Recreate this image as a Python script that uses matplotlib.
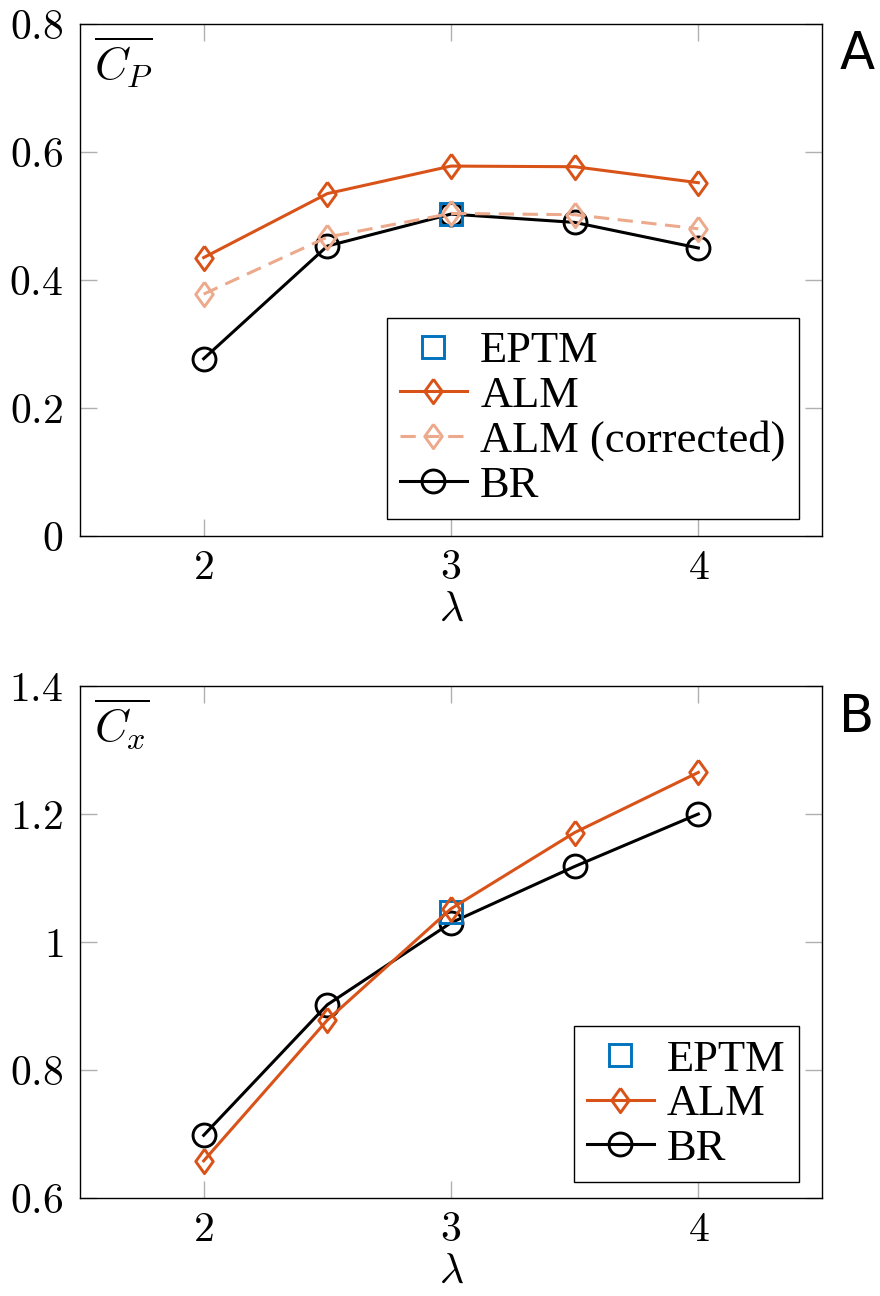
import matplotlib
matplotlib.use("Agg")
import matplotlib.pyplot as plt

plt.rcParams['mathtext.fontset'] = 'cm'
plt.rcParams['font.family'] = ['Liberation Serif', 'DejaVu Serif']

# ---------------- data ----------------
lam = [2.0, 2.5, 3.0, 3.5, 4.0]
lam_eptm = [3.0]

cp_alm = [0.435, 0.535, 0.578, 0.577, 0.552]
cp_alm_corr = [0.378, 0.467, 0.504, 0.502, 0.480]
cp_br = [0.277, 0.453, 0.503, 0.490, 0.450]
cp_eptm = [0.503]

cx_alm = [0.658, 0.878, 1.052, 1.171, 1.265]
cx_br = [0.698, 0.902, 1.030, 1.118, 1.200]
cx_eptm = [1.047]

xticks = [2, 3, 4]
xtick_labels = ['2', '3', '4']
cp_yticks = [0, 0.2, 0.4, 0.6, 0.8]
cp_ytick_labels = ['0', '0.2', '0.4', '0.6', '0.8']
cx_yticks = [0.6, 0.8, 1.0, 1.2, 1.4]
cx_ytick_labels = ['0.6', '0.8', '1', '1.2', '1.4']

# ---------------- style ----------------
C_ALM = '#D95319'
C_CORR = '#ECA98C'
C_EPTM = '#0072BD'
C_BR = '#000000'
LW = 2.2
MEW = 2.1
diamond = [(0, 1), (0.72, 0), (0, -1), (-0.72, 0), (0, 1)]

fig = plt.figure(figsize=(8.8, 12.96), dpi=100)
W, H = 880, 1296
ax1 = fig.add_axes([80 / W, (H - 536) / H, 742 / W, 512 / H])
ax2 = fig.add_axes([80 / W, (H - 1198) / H, 742 / W, 512 / H])


def style_axes(ax, yticks, ylabels, ylim):
    ax.set_xlim(1.5, 4.5)
    ax.set_ylim(*ylim)
    ax.set_xticks(xticks)
    ax.set_xticklabels(['$' + t + '$' for t in xtick_labels], fontsize=30)
    ax.set_yticks(yticks)
    ax.set_yticklabels(['$' + t + '$' for t in ylabels], fontsize=30)
    ax.tick_params(direction='in', length=12, width=1.0, color='#b0b0b0',
                   top=True, right=True, pad=10)
    ax.tick_params(axis='y', pad=12)
    for s in ax.spines.values():
        s.set_linewidth(1.0)
    ax.set_xlabel(r'$\lambda$', fontsize=30, labelpad=2)


br_kw = dict(color=C_BR, lw=LW, marker='o', ms=16.5, mfc='none', mew=MEW)
alm_kw = dict(color=C_ALM, lw=LW, marker=diamond, ms=17.5, mfc='none', mew=MEW)
corr_kw = dict(color=C_CORR, lw=LW, marker=diamond, ms=17.5, mfc='none', mew=MEW,
               dashes=(5, 2.8))
eptm_kw = dict(color=C_EPTM, lw=0, marker='s', ms=16, mfc='none', mew=MEW)

# ---- panel A ----
h_br, = ax1.plot(lam, cp_br, label='BR', **br_kw)
h_ep, = ax1.plot(lam_eptm, cp_eptm, linestyle='none', label='EPTM', **eptm_kw)
h_alm, = ax1.plot(lam, cp_alm, label='ALM', **alm_kw)
h_corr, = ax1.plot(lam, cp_alm_corr, label='ALM (corrected)', **corr_kw)
style_axes(ax1, cp_yticks, cp_ytick_labels, (0, 0.8))
ax1.text(0.019, 0.978, r'$\overline{C_P}$', transform=ax1.transAxes,
         ha='left', va='top', fontsize=33)
leg_kw = dict(fontsize=32, frameon=True, fancybox=False, edgecolor='black',
              framealpha=1, handlelength=1.5, handletextpad=0.3,
              labelspacing=0.1, borderpad=0.3, borderaxespad=0)
leg1 = ax1.legend([h_ep, h_alm, h_corr, h_br],
                  ['EPTM', 'ALM', 'ALM (corrected)', 'BR'],
                  loc='lower right', bbox_to_anchor=(0.969, 0.033), **leg_kw)
leg1.get_frame().set_linewidth(1.0)

# ---- panel B ----
g_br, = ax2.plot(lam, cx_br, label='BR', **br_kw)
g_ep, = ax2.plot(lam_eptm, cx_eptm, linestyle='none', label='EPTM', **eptm_kw)
g_alm, = ax2.plot(lam, cx_alm, label='ALM', **alm_kw)
style_axes(ax2, cx_yticks, cx_ytick_labels, (0.6, 1.4))
ax2.text(0.019, 0.978, r'$\overline{C_x}$', transform=ax2.transAxes,
         ha='left', va='top', fontsize=33)
leg2 = ax2.legend([g_ep, g_alm, g_br], ['EPTM', 'ALM', 'BR'],
                  loc='lower right', bbox_to_anchor=(0.969, 0.031), **leg_kw)
leg2.get_frame().set_linewidth(1.0)

# panel letters
fig.text(857 / W, 1 - 55 / H, 'A', fontsize=37, family='DejaVu Sans',
         ha='center', va='center')
fig.text(857 / W, 1 - 718 / H, 'B', fontsize=37, family='DejaVu Sans',
         ha='center', va='center')

fig.savefig('out.png', dpi=100)
